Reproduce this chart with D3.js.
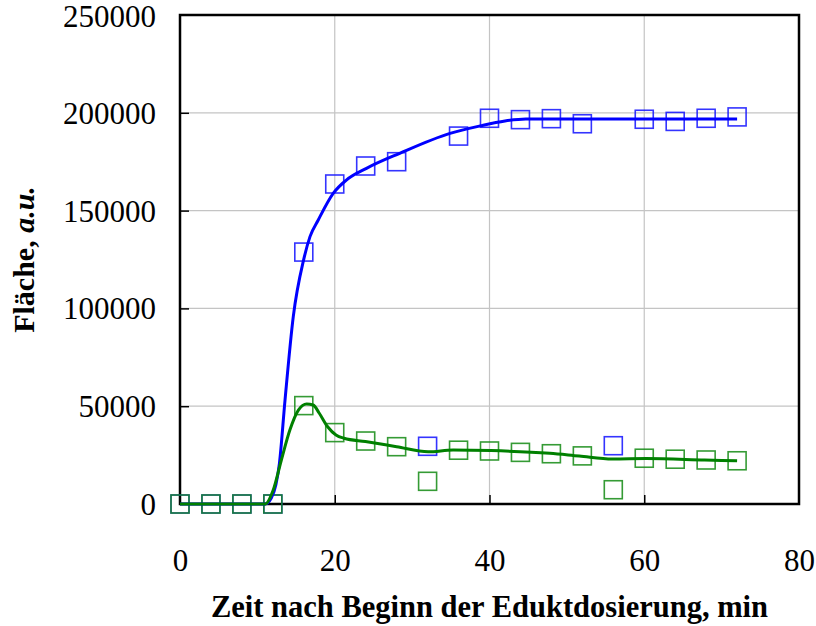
<!DOCTYPE html>
<html>
<head>
<meta charset="utf-8">
<script src="https://cdn.jsdelivr.net/npm/d3@7"></script>
<style>
  html, body { margin: 0; padding: 0; background: #fff; }
  svg { display: block; }
</style>
</head>
<body>
<svg id="chart" width="816" height="626"></svg>
<script>
// Measured sampling times (min)
const times = [0, 4, 8, 12, 16, 20, 24, 28, 32, 36, 40, 44, 48, 52, 56, 60, 64, 68, 72];

// Peak areas, product (blue) and by-product (green)
const blueValues = [0, 0, 0, 0, 128800, 163600, 172800, 175000, 29500, 188100, 197200, 196500, 197000, 194400, 29800, 196700, 195600, 197200, 197900];
const greenValues = [0, 0, 0, 0, 50300, 36500, 32200, 29300, 11600, 27500, 27100, 26400, 25700, 24600, 7300, 23400, 22900, 22500, 22100];

// Smoothed trend curves
const blueFitX = [0, 8, 11, 11.8, 12.4, 12.85, 13.57, 14.64, 15.97, 16.8, 17.87, 19.8, 21.5, 24.1, 28.4, 34.9, 38.8, 42, 44.7, 50, 60, 72];
const blueFitY = [0, 0, 0, 3000, 10000, 20800, 53000, 95800, 124700, 136700, 145200, 158800, 165600, 171600, 179300, 189500, 193300, 195800, 196800, 196800, 196800, 196800];
const greenFitX = [0, 8, 11, 12.05, 13.1, 14.2, 15.3, 16.37, 17.2, 18.0, 19.08, 20.16, 21.2, 23.96, 28.0, 32.07, 35.3, 40.2, 47.8, 51.6, 55.9, 60.25, 67.8, 72];
const greenFitY = [0, 0, 0, 7200, 22500, 37800, 48000, 51100, 50600, 46400, 39500, 35300, 33600, 31900, 29300, 26700, 27600, 27300, 25900, 24500, 23000, 23200, 22500, 22100];

const xTicks = [0, 20, 40, 60, 80];
const yTicks = [0, 50000, 100000, 150000, 200000, 250000];

const xTitle = "Zeit nach Beginn der Eduktdosierung, min";

const svg = d3.select("#chart");
const plot = { left: 180, right: 799, top: 15, bottom: 504 };

const x = d3.scaleLinear().domain([0, 80]).range([plot.left, plot.right]);
const y = d3.scaleLinear().domain([0, 250000]).range([plot.bottom, plot.top]);

const serif = "'Liberation Serif', 'Times New Roman', serif";

// Grid lines
const grid = svg.append("g").attr("stroke", "#c4c4c4").attr("stroke-width", 1.2);
grid.selectAll("line.v").data(xTicks.slice(1, -1)).join("line")
  .attr("x1", d => x(d)).attr("x2", d => x(d))
  .attr("y1", plot.top).attr("y2", plot.bottom);
grid.selectAll("line.h").data(yTicks.slice(1, -1)).join("line")
  .attr("x1", plot.left).attr("x2", plot.right)
  .attr("y1", d => y(d)).attr("y2", d => y(d));

// Axes with inward ticks
const xAxis = d3.axisBottom(x).tickValues(xTicks).tickSize(-9).tickPadding(45).tickFormat(d3.format("d"));
const yAxis = d3.axisLeft(y).tickValues(yTicks).tickSize(-9).tickPadding(24).tickFormat(d3.format("d"));

const gx = svg.append("g").attr("transform", `translate(0,${plot.bottom})`).call(xAxis);
const gy = svg.append("g").attr("transform", `translate(${plot.left},0)`).call(yAxis);
[gx, gy].forEach(g => {
  g.select(".domain").remove();
  g.selectAll(".tick line").attr("stroke", "#000").attr("stroke-width", 1.5);
  g.selectAll(".tick text").attr("font-family", serif).attr("font-size", 31).attr("fill", "#000");
});
gx.selectAll(".tick line").filter(d => d === 0 || d === 80).remove();
gy.selectAll(".tick line").filter(d => d === 0 || d === 250000).remove();
gy.selectAll(".tick text").attr("dy", "0.34em");
gy.selectAll(".tick text").filter(d => d === 250000).attr("dy", "0.38em");

// Frame
svg.append("rect")
  .attr("x", plot.left).attr("y", plot.top)
  .attr("width", plot.right - plot.left).attr("height", plot.bottom - plot.top)
  .attr("fill", "none").attr("stroke", "#000").attr("stroke-width", 2.5);

// Markers
const size = 18;
function squares(values, color, opacity) {
  svg.append("g").selectAll("rect").data(times.map((t, i) => [t, values[i]])).join("rect")
    .attr("x", d => x(d[0]) - size / 2).attr("y", d => y(d[1]) - size / 2)
    .attr("width", size).attr("height", size)
    .attr("fill", "none").attr("stroke", color).attr("stroke-width", 1.6)
    .attr("stroke-opacity", opacity);
}
squares(blueValues, "#1010ff", 0.85);
squares(greenValues, "#128a12", 0.85);

// Trend curves
const line = d3.line().x(d => x(d[0])).y(d => y(d[1])).curve(d3.curveMonotoneX);
svg.append("path").datum(blueFitX.map((t, i) => [t, blueFitY[i]]))
  .attr("d", line).attr("fill", "none").attr("stroke", "#0000ff").attr("stroke-width", 3);
svg.append("path").datum(greenFitX.map((t, i) => [t, greenFitY[i]]))
  .attr("d", line).attr("fill", "none").attr("stroke", "#008000").attr("stroke-width", 3);

// Axis titles
svg.append("text")
  .attr("x", (plot.left + plot.right) / 2).attr("y", 617)
  .attr("text-anchor", "middle").attr("font-family", serif)
  .attr("font-size", 30.5).attr("font-weight", "bold").text(xTitle);

const yt = svg.append("text")
  .attr("transform", `translate(34,${(plot.top + plot.bottom) / 2}) rotate(-90)`)
  .attr("text-anchor", "middle").attr("font-family", serif)
  .attr("font-size", 30).attr("font-weight", "bold");
yt.append("tspan").text("Fläche, ");
yt.append("tspan").attr("font-style", "italic").text("a.u.");
</script>
</body>
</html>
